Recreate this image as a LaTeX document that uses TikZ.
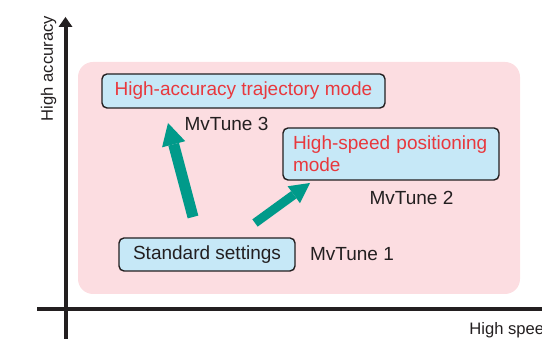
\documentclass[tikz,border=0pt]{standalone}
\usepackage{fontspec}
\setmainfont{Liberation Sans}
\usetikzlibrary{arrows.meta, positioning}
\definecolor{mvpink}{HTML}{FCDDE1}
\definecolor{mvblue}{HTML}{C6E8F7}
\definecolor{mvteal}{HTML}{009A8A}
\definecolor{mvred}{HTML}{E8383D}
\definecolor{mvink}{HTML}{231F20}
\tikzset{
  modebox/.style={rectangle, rounded corners=2.5pt, draw=mvink, line width=0.7pt, fill=mvblue,
                  text=mvred, font=\fontsize{9.5}{11}\selectfont, inner sep=0pt},
  stdbox/.style={modebox, text=mvink},
  tune/.style={font=\fontsize{9.5}{11}\selectfont, text=mvink, inner sep=0pt},
  axis/.style={line width=2pt, draw=mvink},
  axlbl/.style={font=\fontsize{8.3}{10}\selectfont, text=mvink, inner sep=0pt},
  jump/.style={draw=mvteal, -{Triangle[width=12pt, length=11pt, line width=0pt]}},
}
\begin{document}
\begin{tikzpicture}[x=0.5pt, y=0.5pt]
  \useasboundingbox (0,0) rectangle (542,341);
  % backdrop
  \fill[mvpink, rounded corners=7.5pt] (78,47) rectangle (520,279);
  % axes
  \draw[axis, -{Triangle[width=7pt, length=5pt, line width=0pt]}] (65.5,2) -- (65.5,324);
  \draw[axis] (37,32) -- (542,32);
  \node[axlbl, rotate=90, anchor=base] (yl) at (53,272.5) {High accuracy};
  \node[axlbl, anchor=base west] (xl) at (469,6) {High speed};
  % modes
  \node[modebox, minimum width=141.5pt, minimum height=17pt] (hacc) at (243.5,250) {High-accuracy trajectory mode};
  \node[modebox, minimum width=108pt, minimum height=26pt, text width=98pt, align=left] (hspd) at (391,187) {High-speed positioning\\mode};
  \node[stdbox, minimum width=88pt, minimum height=16.5pt] (std) at (207,86.5) {Standard settings};
  \node[tune] (t3) at (226.5,217) {MvTune 3};
  \node[tune] (t2) at (411.5,143) {MvTune 2};
  \node[tune, right=7pt of std] (t1) {MvTune 1};
  % tuning steps
  \coordinate (a1) at (193,124);
  \coordinate (b1) at (168,218);
  \coordinate (a2) at (255,118);
  \coordinate (b2) at (310,158);
  \draw[jump, line width=5.5pt] (a1) -- (b1);
  \draw[jump, line width=4.5pt, -{Triangle[width=10.5pt, length=10pt, line width=0pt]}] (a2) -- (b2);
\end{tikzpicture}
\end{document}
